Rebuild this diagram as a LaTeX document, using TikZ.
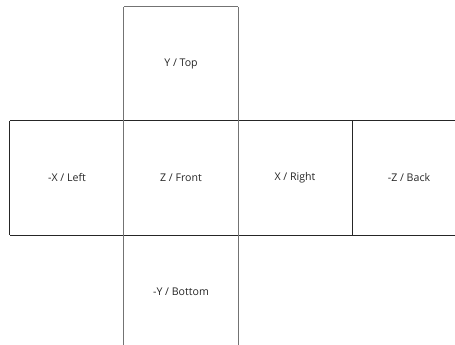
\documentclass[tikz,border=0pt]{standalone}
\usepackage{fontspec}
\setmainfont{Open Sans}
\begin{document}
\begin{tikzpicture}[x=1pt,y=1pt,
  face/.style={minimum width=114pt,minimum height=114pt,inner sep=0pt,draw=none,font=\fontsize{10.6}{12}\selectfont,text=black!85},
  darkline/.style={draw=black!85,line width=0.9pt},
  greyline/.style={draw=black!55,line width=1pt}]
\clip (0,0) rectangle (455,345);
\useasboundingbox (0,0) rectangle (455,345);
\node[face] (front) at (181,167) {Z / Front};
\node[face] (left) at (67,167) {-X / Left};
\node[face] (right) at (295,167) {X / Right};
\node[face] (back) at (409,167) {-Z / Back};
\node[face] (top) at (181,281) {Y / Top};
\node[face] (bottom) at (181,53) {-Y / Bottom};
% horizontal lines of middle row
\draw[darkline] (left.north west) -- (back.north east);
\draw[darkline] (left.south west) -- (back.south east);
\draw[darkline] (left.north west) -- (left.south west);
\draw[darkline] (right.north east) -- (right.south east);
% centre column
\draw[greyline] (top.north west) -- (top.north east);
\draw[greyline] (top.north west) -- (bottom.south west);
\draw[greyline] (top.north east) -- (bottom.south east);
\end{tikzpicture}
\end{document}
